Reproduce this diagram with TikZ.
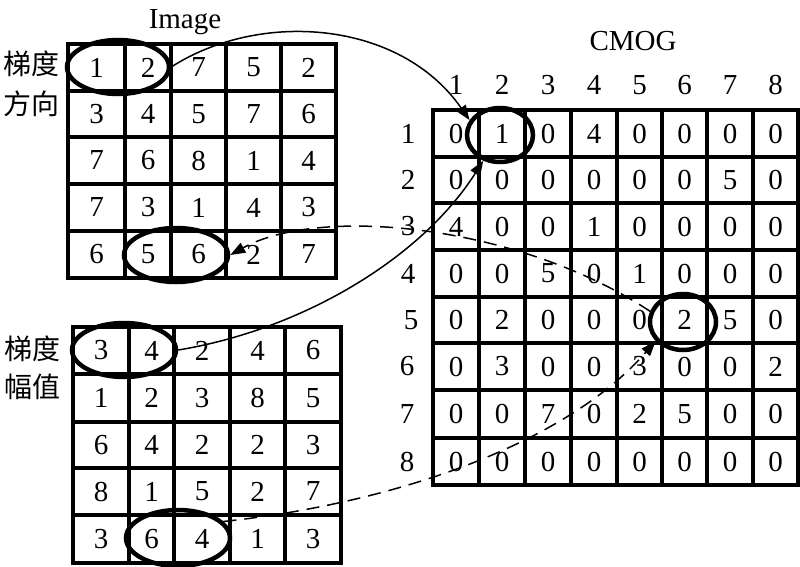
\documentclass[tikz,border=0pt]{standalone}
\usepackage{fontspec}
\setmainfont{Liberation Serif}
\newfontfamily\cjk{Noto Sans CJK SC}
\usetikzlibrary{shapes.geometric,arrows.meta}
\begin{document}
\begin{tikzpicture}[x=1pt,y=-1pt,
  num/.style={font=\fontsize{29}{29}\selectfont, inner sep=0pt},
  lab/.style={font=\cjk\fontsize{28}{28}\selectfont, inner sep=0pt},
  gridline/.style={line width=3.2pt, line cap=rect},
  ring/.style={draw, ellipse, line width=4.5pt, inner sep=0pt},
  link/.style={line width=1.5pt, -{Triangle[length=15pt,width=11pt]}},
  dlink/.style={link, dash pattern=on 13pt off 8pt}]
\useasboundingbox (0,0) rectangle (800,567);

% ---- top-left grid (gradient direction)
\foreach \x in {68,125,171,226,281,336} \draw[gridline] (\x,44) -- (\x,278);
\foreach \y in {44,91,137,184,231,278} \draw[gridline] (68,\y) -- (336,\y);
\def\tcx{{96.5,148,198.5,253.5,308.5}}
\def\tcy{{67.5,114,160.5,207.5,254.5}}
\foreach \rowlist [count=\r] in {{1,2,7,5,2},{3,4,5,7,6},{7,6,8,1,4},{7,3,1,4,3},{6,5,6,2,7}}{
  \foreach \v [count=\c] in \rowlist {
    \pgfmathsetmacro\xx{\tcx[\c-1]}
    \pgfmathsetmacro\yy{\tcy[\r-1]}
    \node[num] (t\r\c) at (\xx,\yy) {\v};
  }
}

% ---- bottom-left grid (gradient magnitude)
\foreach \x in {73,129,174,230,285,341} \draw[gridline] (\x,327) -- (\x,563);
\foreach \y in {327,374,422,468,515,563} \draw[gridline] (73,\y) -- (341,\y);
\def\bcx{{101,151.5,202,257.5,313}}
\def\bcy{{350.5,398,445,491.5,539}}
\foreach \rowlist [count=\r] in {{3,4,2,4,6},{1,2,3,8,5},{6,4,2,2,3},{8,1,5,2,7},{3,6,4,1,3}}{
  \foreach \v [count=\c] in \rowlist {
    \pgfmathsetmacro\xx{\bcx[\c-1]}
    \pgfmathsetmacro\yy{\bcy[\r-1]}
    \node[num] (b\r\c) at (\xx,\yy) {\v};
  }
}

% ---- CMOG grid
\foreach \x in {433,479,525,571,617,662,707,753,798} \draw[gridline] (\x,110) -- (\x,485);
\foreach \y in {110,157,203,250,297,343,390,438,485} \draw[gridline] (433,\y) -- (798,\y);
\def\ccx{{456,502,548,594,639.5,684.5,730,775.5}}
\def\ccy{{133.5,180,226.5,273.5,320,366.5,414,461.5}}
\foreach \rowlist [count=\r] in {{0,1,0,4,0,0,0,0},{0,0,0,0,0,0,5,0},{4,0,0,1,0,0,0,0},{0,0,5,0,1,0,0,0},{0,2,0,0,0,2,5,0},{0,3,0,0,3,0,0,2},{0,0,7,0,2,5,0,0},{0,0,0,0,0,0,0,0}}{
  \foreach \v [count=\c] in \rowlist {
    \pgfmathsetmacro\xx{\ccx[\c-1]}
    \pgfmathsetmacro\yy{\ccy[\r-1]}
    \node[num] (c\r\c) at (\xx,\yy) {\v};
  }
}
% column and row headers
\foreach \c in {1,...,8} {
  \pgfmathsetmacro\xx{\ccx[\c-1]}
  \node[num] (ch\c) at (\xx,85) {\c};
}
\foreach \r/\xx in {1/408,2/408,3/408,4/408,5/411,6/407,7/407,8/407} {
  \pgfmathsetmacro\yy{\ccy[\r-1]}
  \node[num] (rh\r) at (\xx,\yy) {\r};
}

% ---- titles and labels
\node[num] (imgtitle) at (185,22) {Image};
\node[num] (cmogtitle) at (633,41) {CMOG};
\node[lab] (dir1) at (31,64) {梯度};
\node[lab] (dir2) at (31,104) {方向};
\node[lab] (mag1) at (33,349) {梯度};
\node[lab] (mag2) at (33,387) {幅值};

% ---- ellipses
\node[ring, minimum width=102pt, minimum height=54pt] (e1) at (118,67) {};
\node[ring, minimum width=104pt, minimum height=54pt] (e4) at (176,255) {};
\node[ring, minimum width=104pt, minimum height=54pt] (e2) at (124,350) {};
\node[ring, minimum width=104pt, minimum height=56pt] (e5) at (178,538) {};
\node[ring, minimum width=66pt, minimum height=54pt] (e3) at (500,135) {};
\node[ring, minimum width=66pt, minimum height=56pt] (e6) at (683,322) {};

% ---- connectors
\draw[link] (e1.east) .. controls (260,10) and (400,20) .. (e3.154);
\draw[link] (e2.east) .. controls (300,330) and (420,260) .. (e3.237);
\draw[dlink] (e6.162) .. controls (520,225) and (320,205) .. (e4.east);
\draw[dlink] (e5.20) .. controls (380,505) and (560,450) .. (e6.215);
\end{tikzpicture}
\end{document}
